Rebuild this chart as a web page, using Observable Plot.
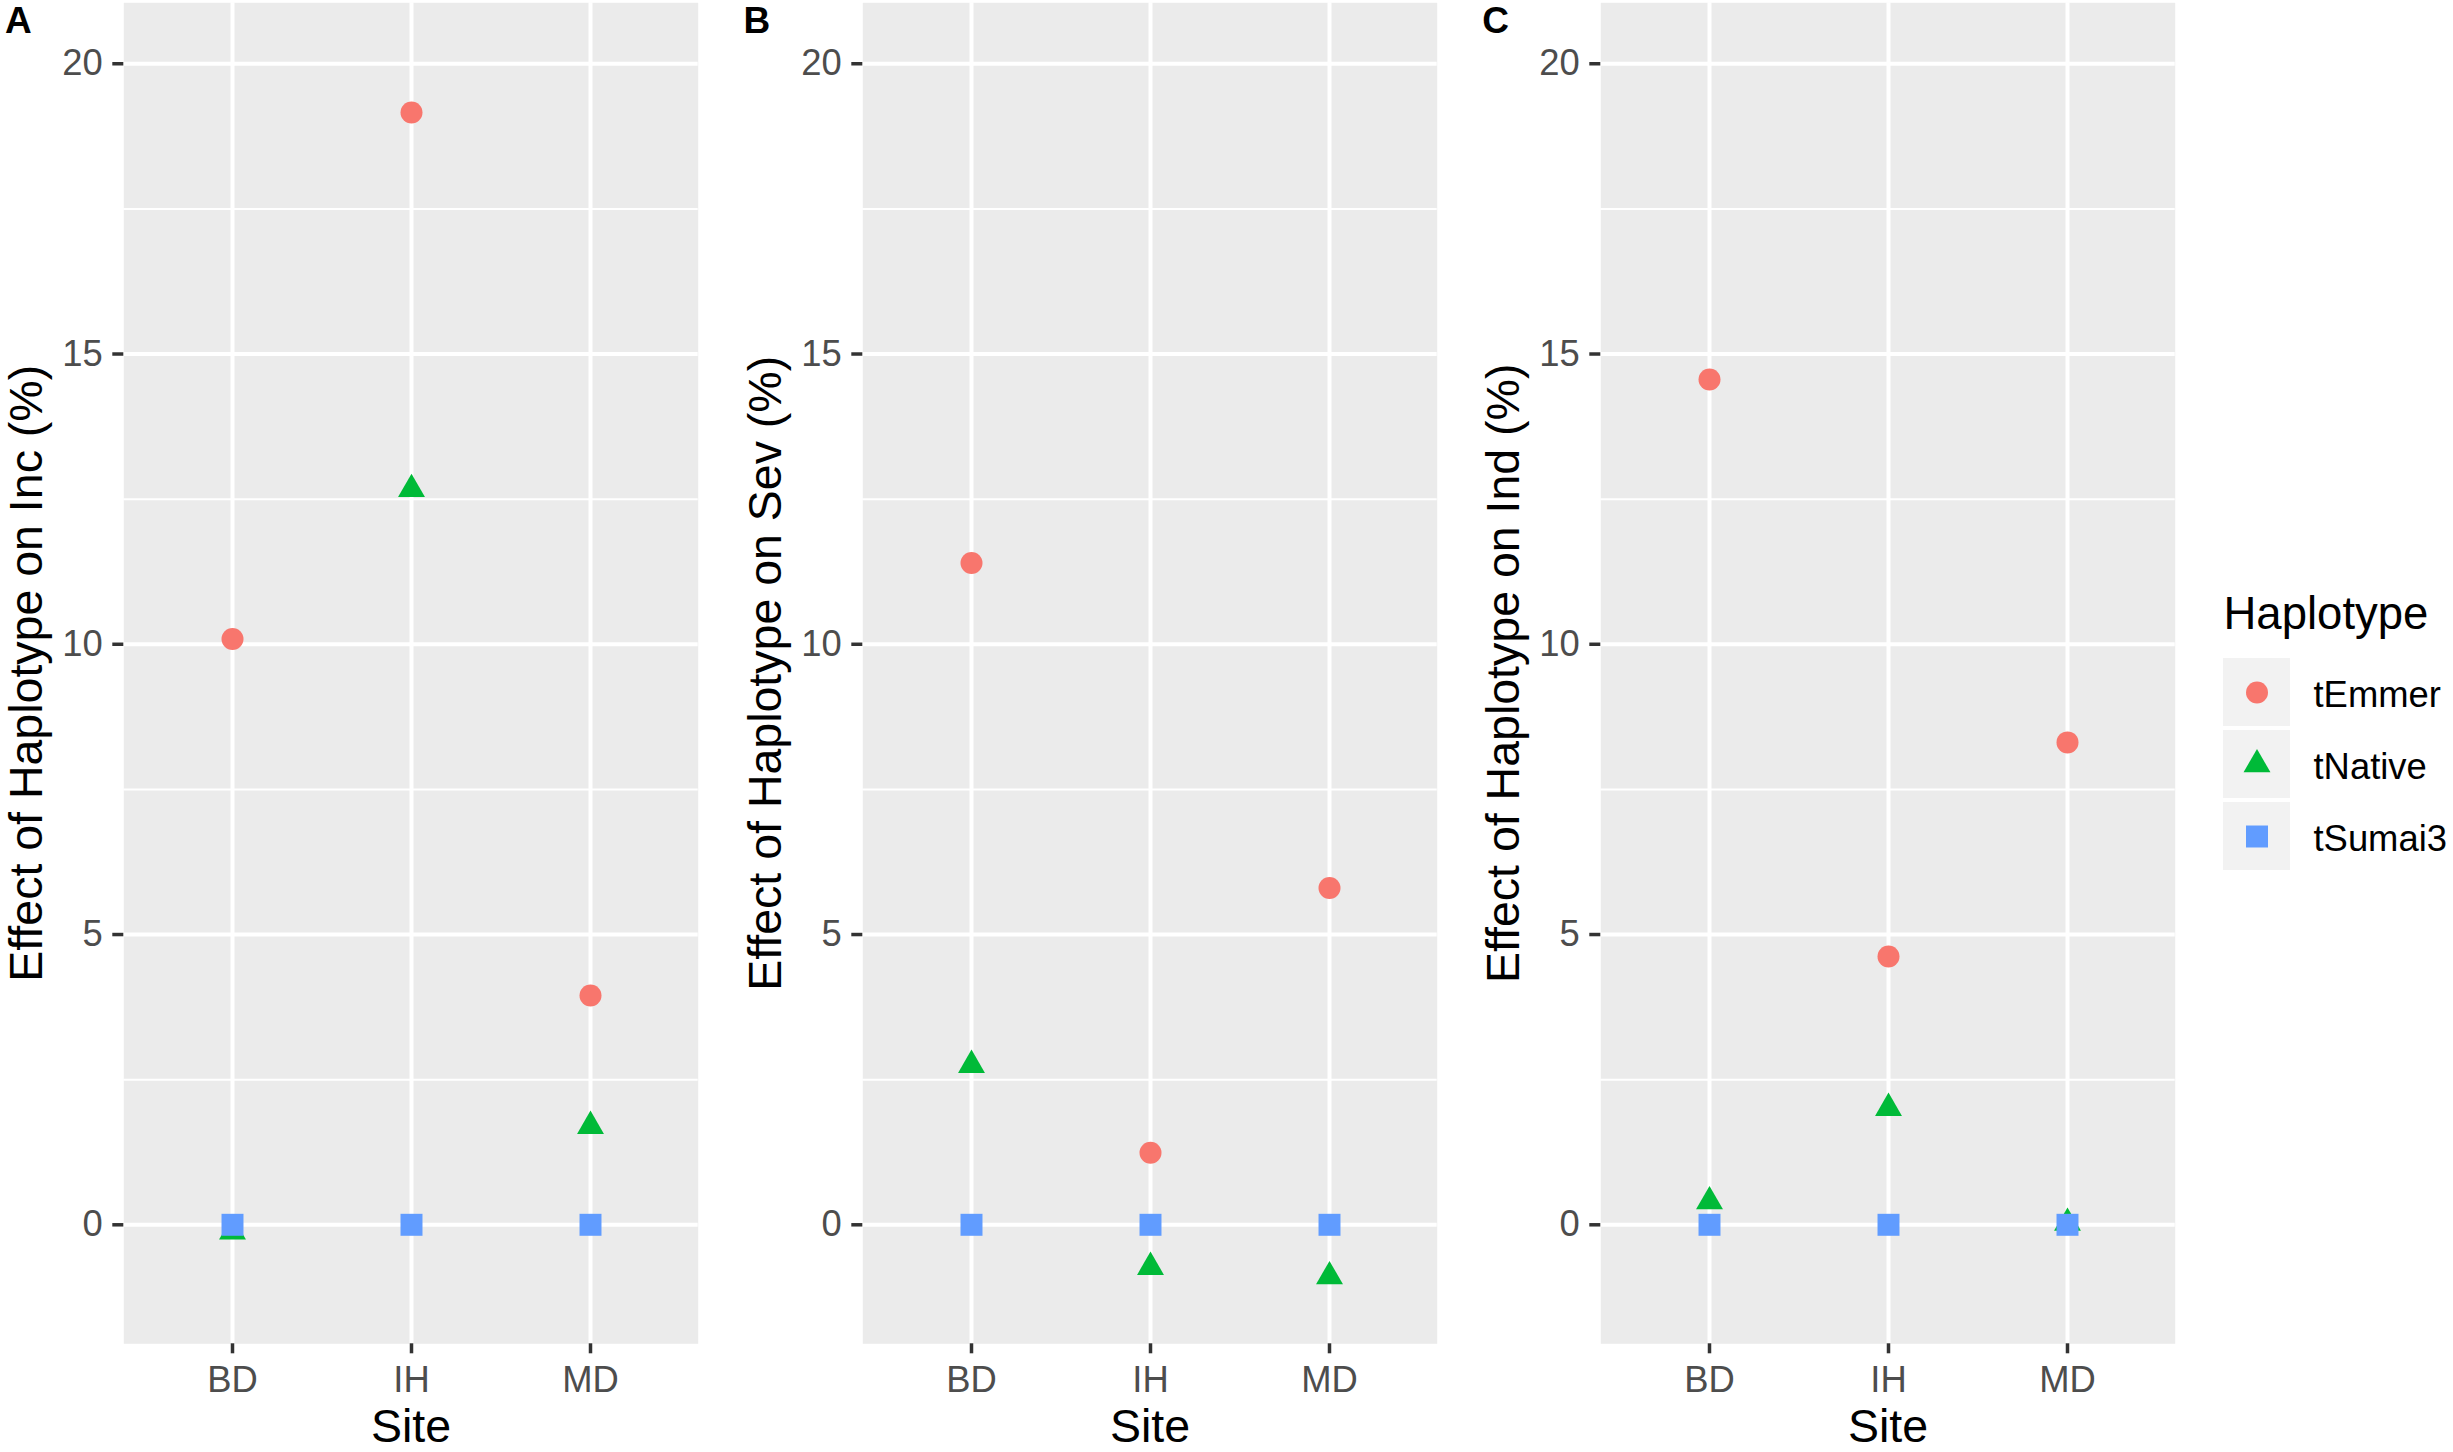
<!DOCTYPE html>
<html><head><meta charset="utf-8">
<script src="https://cdn.jsdelivr.net/npm/d3@7"></script>
<script src="https://cdn.jsdelivr.net/npm/@observablehq/plot@0.6"></script>
<style>
body{margin:0;background:#fff;}
#root{position:relative;width:2453px;height:1452px;font-family:"Liberation Sans",Arial,sans-serif;overflow:hidden;background:#fff;}
.panel{position:absolute;top:0;}
.tag{position:absolute;font-weight:bold;font-size:37px;line-height:1;color:#000;font-family:"Liberation Sans",Arial,sans-serif;}
</style></head><body><div id="root"></div>
<script>
// ---- data ----
const sites = ["BD", "IH", "MD"];
const haplotypes = ["tEmmer", "tNative", "tSumai3"];
const hapColors = ["#F8766D", "#00BA38", "#619CFF"];
const hapSymbols = ["circle", "triangle", "square"];

const incEmmer  = [10.09, 19.16, 3.95];
const incNative = [-0.12, 12.67, 1.70];
const incSumai3 = [0, 0, 0];

const sevEmmer  = [11.40, 1.24, 5.80];
const sevNative = [2.75, -0.73, -0.89];
const sevSumai3 = [0, 0, 0];

const indEmmer  = [14.56, 4.62, 8.31];
const indNative = [0.40, 2.01, 0.03];
const indSumai3 = [0, 0, 0];

const yTicks = [0, 5, 10, 15, 20];
const yMinor = [2.5, 7.5, 12.5, 17.5];
const yDomain = [-2.05, 21.05];

const panelTags = ["A", "B", "C"];
const yTitles = ["Effect of Haplotype on Inc (%)", "Effect of Haplotype on Sev (%)", "Effect of Haplotype on Ind (%)"];
const xTitle = "Site";
const legendTitle = "Haplotype";

const panelSeries = [
  [incEmmer, incNative, incSumai3],
  [sevEmmer, sevNative, sevSumai3],
  [indEmmer, indNative, indSumai3]
];

// ---- style ----
const FONT = "'Liberation Sans', Arial, sans-serif";
const symbolR = {circle: 11, triangle: 10, square: 12.4};
const PANEL_STEP = 738.6;
const PANEL_W = 738;
const H = 1452;

const root = document.getElementById("root");

panelSeries.forEach((series, i) => {
  const rows = haplotypes.flatMap((h, j) => sites.map((s, k) => ({site: s, hap: h, value: series[j][k]})));
  const dotMarks = haplotypes.map((h, j) =>
    Plot.dot(rows.filter(d => d.hap === h), {
      x: "site", y: "value",
      symbol: hapSymbols[j], r: symbolR[hapSymbols[j]],
      fill: hapColors[j], stroke: "none"
    })
  );
  const chart = Plot.plot({
    width: PANEL_W, height: H,
    marginLeft: 123.3, marginRight: PANEL_W - 697.7, marginTop: 2.3, marginBottom: H - 1343.3,
    style: {fontFamily: FONT, background: "transparent", overflow: "visible"},
    x: {type: "point", domain: sites, padding: 0.6, axis: null},
    y: {domain: yDomain, axis: null},
    marks: [
      Plot.frame({fill: "#EBEBEB", stroke: "none"}),
      Plot.ruleY(yMinor, {stroke: "white", strokeWidth: 2}),
      Plot.ruleY(yTicks, {stroke: "white", strokeWidth: 4}),
      Plot.ruleX(sites, {stroke: "white", strokeWidth: 4}),
      Plot.axisY(yTicks, {tickSize: 11, tickPadding: 10, tickFormat: d3.format("d"), fontSize: 36.4, stroke: "#333333", fill: "#4D4D4D", strokeWidth: 3.5, label: null}),
      Plot.axisX({tickSize: 10, tickPadding: 12, fontSize: 36.4, stroke: "#333333", fill: "#4D4D4D", strokeWidth: 3.5, label: null}),
      ...dotMarks,
      Plot.text([yTitles[i]], {frameAnchor: "left", text: d => d, rotate: -90, dx: -82, lineAnchor: "bottom", textAnchor: "middle", fontSize: 46.5, fill: "#000"}),
      Plot.text([xTitle], {frameAnchor: "bottom", text: d => d, dy: 98, lineAnchor: "bottom", textAnchor: "middle", fontSize: 46.5, fill: "#000"})
    ]
  });
  const wrap = document.createElement("div");
  wrap.className = "panel";
  wrap.style.left = (i * PANEL_STEP) + "px";
  wrap.style.width = PANEL_W + "px";
  wrap.appendChild(chart);
  root.appendChild(wrap);

  const tag = document.createElement("div");
  tag.className = "tag";
  tag.textContent = panelTags[i];
  tag.style.left = (i * PANEL_STEP + 5) + "px";
  tag.style.top = "2px";
  root.appendChild(tag);
});

// ---- legend ----
const LEG_TOP = 560, LEG_MT = 98, LEG_H = 310, LEG_W = 230;
const legRows = haplotypes.map((h, j) => ({hap: h, key: "key", sym: hapSymbols[j], col: hapColors[j]}));
const legend = Plot.plot({
  width: LEG_W, height: LEG_H,
  marginLeft: 0, marginRight: 0, marginTop: LEG_MT, marginBottom: 0,
  style: {fontFamily: FONT, background: "transparent", overflow: "visible"},
  x: {type: "band", domain: ["key"], range: [0, 67.6], padding: 0, axis: null},
  y: {type: "band", domain: haplotypes, paddingInner: 0.0625, paddingOuter: 0, axis: null},
  marks: [
    Plot.cell(legRows, {x: "key", y: "hap", fill: "#F2F2F2", inset: 0}),
    ...legRows.map(d => Plot.dot([d], {x: "key", y: "hap", symbol: d.sym, r: symbolR[d.sym], fill: d.col, stroke: "none"})),
    Plot.text(legRows, {x: "key", y: "hap", text: "hap", textAnchor: "start", dx: 56.5, dy: 3, lineAnchor: "middle", fontSize: 36.4, fill: "#000"}),
    Plot.text([legendTitle], {frameAnchor: "top-left", text: d => d, dy: -30, lineAnchor: "bottom", textAnchor: "start", fontSize: 45.5, fill: "#000"})
  ]
});
const lw = document.createElement("div");
lw.className = "panel";
lw.style.left = "2223px";
lw.style.top = LEG_TOP + "px";
lw.style.width = LEG_W + "px";
lw.appendChild(legend);
root.appendChild(lw);
</script>
</body></html>
